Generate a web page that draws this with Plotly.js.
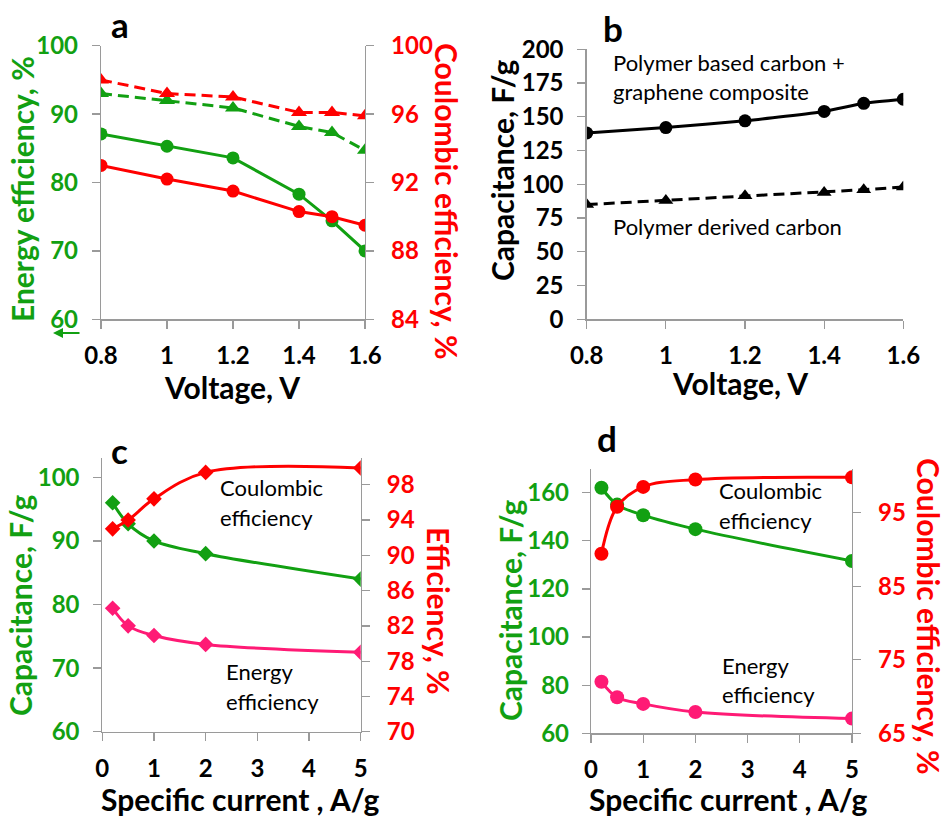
<!DOCTYPE html>
<html>
<head>
<meta charset="utf-8">
<script src="https://cdn.plot.ly/plotly-3.0.1.min.js"></script>
<style>html,body{margin:0;padding:0;background:#fff;}#chart{width:947px;height:818px;}</style>
</head>
<body>
<div id="chart"></div>
<script>
// ---------- data ----------
const voltage = [0.8, 1.0, 1.2, 1.4, 1.5, 1.6];
const aEnergyEffSolid = [87.1, 85.3, 83.6, 78.3, 74.4, 70.0];
const aEnergyEffDash  = [93.0, 92.0, 90.9, 88.2, 87.3, 84.7];
const aCoulEffSolid   = [93.0, 92.2, 91.5, 90.3, 90.0, 89.5];
const aCoulEffDash    = [98.0, 97.2, 97.0, 96.1, 96.1, 95.9];

const bComposite = [138, 142, 147, 154, 160, 163];
const bPolymer   = [85, 88, 91.5, 94, 96, 98];

const current = [0.2, 0.5, 1, 2, 5];
const cCapacitance = [96, 92.7, 90, 88, 84];
const cCoulombic   = [93.0, 94.0, 96.4, 99.4, 99.9];
const cEnergy      = [84.0, 82.0, 80.9, 79.9, 79.0];

const dCapacitance = [162, 155, 150.6, 144.8, 131.6];
const dCoulombic   = [89.4, 95.8, 98.5, 99.5, 99.8];
const dEnergy      = [72.0, 69.9, 69.0, 67.9, 67.0];

const voltTicks = [0.8, 1, 1.2, 1.4, 1.6];
const voltTickText = ['0.8', '1', '1.2', '1.4', '1.6'];
const aLeftTicks = [60, 70, 80, 90, 100];
const aRightTicks = [84, 88, 92, 96, 100];
const bTicks = [0, 25, 50, 75, 100, 125, 150, 175, 200];
const cLeftTicks = [60, 70, 80, 90, 100];
const cRightTicks = [70, 74, 78, 82, 86, 90, 94, 98];
const dLeftTicks = [60, 80, 100, 120, 140, 160];
const dRightTicks = [65, 75, 85, 95];

// ---------- style ----------
const W = 947, H = 818;
const GREEN = '#12a012', RED = '#ff0000', PINK = '#ff1a75', BLACK = '#000000', AX = '#9a9a9a';
const FONT = 'Lato, "Open Sans", sans-serif';
const TICK = 24, TITLE = 30;
const px = v => v / W;
const py = v => 1 - v / H;

function xa(d0, d1, anchor, range, extra) {
  return Object.assign({
    domain: [px(d0), px(d1)], anchor: anchor, range: range,
    showline: true, linecolor: AX, linewidth: 1.3, ticks: 'outside', ticklen: 8, tickcolor: AX, tickwidth: 1.3,
    showgrid: false, zeroline: false, ticklabelstandoff: 7,
    tickfont: {family: FONT, size: TICK, color: BLACK, weight: 700}
  }, extra || {});
}
// bottom pixel, top pixel
function ya(bottom, top, anchor, range, color, tickvals, extra) {
  return Object.assign({
    domain: [py(bottom), py(top)], anchor: anchor, range: range, tickvals: tickvals,
    showline: true, linecolor: AX, linewidth: 1.3, ticks: 'outside', ticklen: 8, tickcolor: AX, tickwidth: 1.3,
    showgrid: false, zeroline: false, showticklabels: false,
    tickfont: {family: FONT, size: TICK, color: color, weight: 700}
  }, extra || {});
}
// right axes: line, ticks and labels
function yr(bottom, top, anchor, range, color, tickvals, over) {
  return ya(bottom, top, anchor, range, color, tickvals,
    {overlaying: over, side: 'right', showticklabels: true, ticklabelstandoff: 12});
}
// left label-only axes, placed so labels end where the reference labels end
function yl(bottom, top, labelRight, range, color, tickvals, over) {
  return {
    domain: [py(bottom), py(top)], anchor: 'free', position: px(labelRight), side: 'left',
    overlaying: over, range: range, tickvals: tickvals,
    showline: false, ticks: '', showgrid: false, zeroline: false, showticklabels: true,
    tickfont: {family: FONT, size: TICK, color: color, weight: 700}
  };
}
// transparent copy of a series so that a label-only axis gets drawn
function carrier(x, y, xaxis, yaxis) {
  return {x: x, y: y, xaxis: xaxis, yaxis: yaxis, mode: 'lines', hoverinfo: 'skip', showlegend: false,
          line: {color: 'rgba(0,0,0,0)', width: 0}};
}

const traces = [
  // panel a
  {x: voltage, y: aEnergyEffSolid, xaxis: 'x', yaxis: 'y', mode: 'lines+markers',
   line: {color: GREEN, width: 3}, marker: {symbol: 'circle', size: 13, color: GREEN}},
  {x: voltage, y: aEnergyEffDash, xaxis: 'x', yaxis: 'y', mode: 'lines+markers',
   line: {color: GREEN, width: 3, dash: '11px,6px'}, marker: {symbol: 'triangle-up', size: 14, color: GREEN}},
  {x: voltage, y: aCoulEffSolid, xaxis: 'x', yaxis: 'y2', mode: 'lines+markers',
   line: {color: RED, width: 3}, marker: {symbol: 'circle', size: 13, color: RED}},
  {x: voltage, y: aCoulEffDash, xaxis: 'x', yaxis: 'y2', mode: 'lines+markers',
   line: {color: RED, width: 3, dash: '11px,6px'}, marker: {symbol: 'triangle-up', size: 14, color: RED}},
  carrier(voltage, aEnergyEffSolid, 'x', 'y8'),
  // panel b
  {x: voltage, y: bComposite, xaxis: 'x2', yaxis: 'y3', mode: 'lines+markers',
   line: {color: BLACK, width: 3, shape: 'spline', smoothing: 0.5}, marker: {symbol: 'circle', size: 13, color: BLACK}},
  {x: voltage, y: bPolymer, xaxis: 'x2', yaxis: 'y3', mode: 'lines+markers',
   line: {color: BLACK, width: 3, dash: '11px,6px'}, marker: {symbol: 'triangle-up', size: 13, color: BLACK}},
  carrier(voltage, bComposite, 'x2', 'y9'),
  // panel c
  {x: current, y: cCapacitance, xaxis: 'x3', yaxis: 'y4', mode: 'lines+markers',
   line: {color: GREEN, width: 3, shape: 'spline'}, marker: {symbol: 'diamond', size: 12, color: GREEN}},
  {x: current, y: cCoulombic, xaxis: 'x3', yaxis: 'y5', mode: 'lines+markers',
   line: {color: RED, width: 3, shape: 'spline'}, marker: {symbol: 'diamond', size: 12, color: RED}},
  {x: current, y: cEnergy, xaxis: 'x3', yaxis: 'y5', mode: 'lines+markers',
   line: {color: PINK, width: 3, shape: 'spline'}, marker: {symbol: 'diamond', size: 12, color: PINK}},
  carrier(current, cCapacitance, 'x3', 'y10'),
  // panel d
  {x: current, y: dCapacitance, xaxis: 'x4', yaxis: 'y6', mode: 'lines+markers',
   line: {color: GREEN, width: 3, shape: 'spline'}, marker: {symbol: 'circle', size: 14, color: GREEN}},
  {x: current, y: dCoulombic, xaxis: 'x4', yaxis: 'y7', mode: 'lines+markers',
   line: {color: RED, width: 3, shape: 'spline'}, marker: {symbol: 'circle', size: 14, color: RED}},
  {x: current, y: dEnergy, xaxis: 'x4', yaxis: 'y7', mode: 'lines+markers',
   line: {color: PINK, width: 3, shape: 'spline'}, marker: {symbol: 'circle', size: 14, color: PINK}},
  carrier(current, dCapacitance, 'x4', 'y11')
];

function txt(text, x, y, size, color, opts) {
  return Object.assign({
    text: text, x: px(x), y: py(y), xref: 'paper', yref: 'paper', showarrow: false,
    xanchor: 'center', yanchor: 'middle',
    font: {family: FONT, size: size, color: color, weight: 700}
  }, opts || {});
}
function lbl(text, x, y) {
  return txt(text, x, y, 22, BLACK, {xanchor: 'left', font: {family: FONT, size: 22, color: BLACK, weight: 400}});
}

const annotations = [
  // panel labels
  txt('a', 120, 24, 35, BLACK),
  txt('b', 613, 28, 35, BLACK),
  txt('c', 120, 450, 35, BLACK),
  txt('d', 607, 438, 35, BLACK),
  // axis titles a
  txt('Voltage, V', 232, 387, TITLE, BLACK),
  txt('Energy efficiency, %', 22, 189, TITLE, GREEN, {textangle: -90}),
  txt('Coulombic efficiency, %', 447, 201, TITLE, RED, {textangle: 90}),
  // axis titles b
  txt('Voltage, V', 740, 383, TITLE, BLACK),
  txt('Capacitance, F/g', 502, 171, TITLE, BLACK, {textangle: -90}),
  // axis titles c
  txt('Specific current , A/g', 240, 799, TITLE, BLACK),
  txt('Capacitance, F/g', 20, 606, TITLE, GREEN, {textangle: -90}),
  txt('Efficiency, %', 439, 611, TITLE, RED, {textangle: 90}),
  // axis titles d
  txt('Specific current , A/g', 728, 799, TITLE, BLACK),
  txt('Capacitance, F/g', 510, 611, TITLE, GREEN, {textangle: -90}),
  txt('Coulombic efficiency, %', 929, 616, TITLE, RED, {textangle: 90}),
  // series labels
  lbl('Polymer based carbon +', 611, 63),
  lbl('graphene composite', 611, 92),
  lbl('Polymer derived carbon', 611, 226),
  lbl('Coulombic', 218, 487),
  lbl('efficiency', 218, 517),
  lbl('Energy', 224, 671),
  lbl('efficiency', 224, 701),
  lbl('Coulombic', 717, 491),
  lbl('efficiency', 717, 520),
  lbl('Energy', 720, 665),
  lbl('efficiency', 720, 694),
  // small arrow in panel a
  {x: px(53), y: py(333), ax: px(81), ay: py(333), xref: 'paper', yref: 'paper', axref: 'paper', ayref: 'paper',
   text: '', showarrow: true, arrowhead: 2, arrowsize: 1, arrowwidth: 2, arrowcolor: GREEN}
];

const layout = {
  width: W, height: H, margin: {l: 0, r: 0, t: 0, b: 0},
  paper_bgcolor: '#fff', plot_bgcolor: 'rgba(0,0,0,0)', showlegend: false,
  font: {family: FONT},
  // panel a
  xaxis:  xa(101, 365, 'y', [0.8, 1.6], {tickvals: voltTicks, ticktext: voltTickText}),
  yaxis:  ya(319.3, 45.7, 'x', [60, 100], GREEN, aLeftTicks),
  yaxis2: yr(319.3, 45.7, 'x', [84, 100], RED, aRightTicks, 'y'),
  yaxis8: yl(319.3, 45.7, 78, [60, 100], GREEN, aLeftTicks, 'y'),
  // panel b
  xaxis2: xa(586.7, 903.3, 'y3', [0.8, 1.6], {tickvals: voltTicks, ticktext: voltTickText}),
  yaxis3: ya(319.3, 49.3, 'x2', [0, 200], BLACK, bTicks),
  yaxis9: yl(319.3, 49.3, 563.5, [0, 200], BLACK, bTicks, 'y3'),
  // panel c
  xaxis3: xa(102.3, 360.7, 'y4', [0, 5], {dtick: 1}),
  yaxis4: ya(731.7, 458.3, 'x3', [60, 103], GREEN, cLeftTicks),
  yaxis5: yr(731.7, 458.3, 'x3', [70, 101], RED, cRightTicks, 'y4'),
  yaxis10: yl(731.7, 458.3, 79.5, [60, 103], GREEN, cLeftTicks, 'y4'),
  // panel d
  xaxis4: xa(591, 852, 'y6', [0, 5], {dtick: 1}),
  yaxis6: ya(733.3, 468.5, 'x4', [60, 170], GREEN, dLeftTicks),
  yaxis7: yr(733.3, 468.5, 'x4', [65, 101], RED, dRightTicks, 'y6'),
  yaxis11: yl(733.3, 468.5, 569, [60, 170], GREEN, dLeftTicks, 'y6'),
  annotations: annotations
};

Plotly.newPlot('chart', traces, layout, {displayModeBar: false, staticPlot: true});
</script>
</body>
</html>
